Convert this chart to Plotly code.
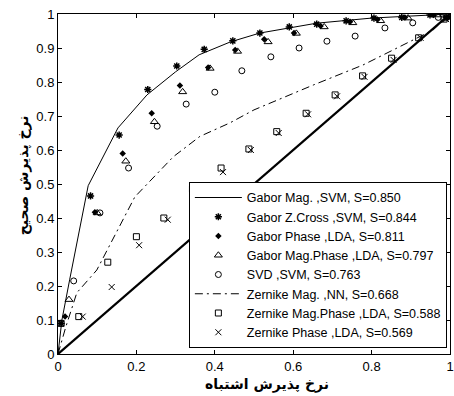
import plotly.graph_objects as go

# ---- data ----
gm_x = [0, 0.01, 0.03, 0.077, 0.153, 0.227, 0.30, 0.36, 0.44, 0.515, 0.66, 0.80, 1.0]
gm_y = [0, 0.10, 0.22, 0.495, 0.665, 0.762, 0.83, 0.88, 0.918, 0.944, 0.973, 0.988, 1.0]

gz_x = [0.008, 0.083, 0.156, 0.229, 0.303, 0.373, 0.446, 0.515, 0.59, 0.66, 0.735, 0.806, 0.877, 0.949, 0.99]
gz_y = [0.09, 0.465, 0.644, 0.778, 0.847, 0.896, 0.921, 0.944, 0.962, 0.97, 0.98, 0.988, 0.99, 0.997, 0.99]

gp_x = [0.018, 0.094, 0.165, 0.239, 0.311, 0.383, 0.452, 0.526, 0.602, 0.67, 0.745, 0.815, 0.885, 0.958, 0.995]
gp_y = [0.11, 0.417, 0.59, 0.708, 0.79, 0.843, 0.894, 0.926, 0.944, 0.965, 0.977, 0.984, 0.99, 0.997, 0.99]

gmp_x = [0.028, 0.10, 0.173, 0.246, 0.318, 0.388, 0.458, 0.536, 0.608, 0.679, 0.752, 0.823, 0.893, 0.967, 1.0]
gmp_y = [0.16, 0.415, 0.567, 0.683, 0.771, 0.84, 0.89, 0.918, 0.943, 0.962, 0.974, 0.98, 0.988, 0.997, 0.99]

svd_x = [0.04, 0.107, 0.18, 0.253, 0.327, 0.40, 0.469, 0.543, 0.615, 0.686, 0.758, 0.834, 0.905, 0.97]
svd_y = [0.215, 0.415, 0.547, 0.67, 0.735, 0.77, 0.833, 0.874, 0.90, 0.92, 0.935, 0.959, 0.974, 0.99]

zm_x = [0, 0.02, 0.048, 0.099, 0.196, 0.227, 0.294, 0.362, 0.439, 0.5, 0.651, 0.778, 0.957, 1.0]
zm_y = [0, 0.08, 0.18, 0.247, 0.462, 0.50, 0.58, 0.64, 0.68, 0.718, 0.791, 0.85, 0.953, 1.0]

zmp_x = [0.008, 0.053, 0.127, 0.2, 0.27, 0.343, 0.416, 0.487, 0.558, 0.633, 0.707, 0.777, 0.851, 0.92, 0.985]
zmp_y = [0.09, 0.11, 0.27, 0.345, 0.40, 0.485, 0.547, 0.603, 0.654, 0.708, 0.762, 0.818, 0.87, 0.93, 0.985]

zp_x = [0.063, 0.137, 0.207, 0.28, 0.35, 0.421, 0.492, 0.563, 0.638, 0.712, 0.782, 0.856, 0.925, 0.99]
zp_y = [0.11, 0.197, 0.32, 0.395, 0.47, 0.535, 0.60, 0.65, 0.705, 0.758, 0.815, 0.865, 0.93, 0.985]

diag_x = [0, 1]
diag_y = [0, 1]

names = [
    "Gabor Mag. ,SVM, S=0.850",
    "Gabor Z.Cross ,SVM, S=0.844",
    "Gabor Phase ,LDA, S=0.811",
    "Gabor Mag.Phase ,LDA, S=0.797",
    "SVD ,SVM, S=0.763",
    "Zernike Mag. ,NN, S=0.668",
    "Zernike Mag.Phase ,LDA, S=0.588",
    "Zernike Phase ,LDA, S=0.569",
]

x_ticks = [0, 0.2, 0.4, 0.6, 0.8, 1]
x_labels = ["0", "0.2", "0.4", "0.6", "0.8", "1"]
y_ticks = [0, 0.1, 0.2, 0.3, 0.4, 0.5, 0.6, 0.7, 0.8, 0.9, 1]
y_labels = ["0", "0.1", "0.2", "0.3", "0.4", "0.5", "0.6", "0.7", "0.8", "0.9", "1"]

x_title = "نرخ پذیرش اشتباه"
y_title = "نرخ پذیرش صحیح"

fig = go.Figure()
fig.add_trace(go.Scatter(x=diag_x, y=diag_y, mode="lines", line=dict(color="black", width=2.2),
                         showlegend=False, hoverinfo="skip"))
fig.add_trace(go.Scatter(x=gm_x, y=gm_y, mode="lines", name=names[0], line=dict(color="black", width=1)))
fig.add_trace(go.Scatter(x=gz_x, y=gz_y, mode="markers", name=names[1],
                         marker=dict(symbol="asterisk-open", size=6, color="black", line=dict(width=1.5, color="black"))))
fig.add_trace(go.Scatter(x=gp_x, y=gp_y, mode="markers", name=names[2],
                         marker=dict(symbol="diamond", size=5, color="black")))
fig.add_trace(go.Scatter(x=gmp_x, y=gmp_y, mode="markers", name=names[3],
                         marker=dict(symbol="triangle-up-open", size=7, color="black", line=dict(width=1, color="black"))))
fig.add_trace(go.Scatter(x=svd_x, y=svd_y, mode="markers", name=names[4],
                         marker=dict(symbol="circle-open", size=6, color="black", line=dict(width=1, color="black"))))
fig.add_trace(go.Scatter(x=zm_x, y=zm_y, mode="lines", name=names[5],
                         line=dict(color="black", width=1, dash="8px,4px,2px,4px")))
fig.add_trace(go.Scatter(x=zmp_x, y=zmp_y, mode="markers", name=names[6],
                         marker=dict(symbol="square-open", size=6, color="black", line=dict(width=1, color="black"))))
fig.add_trace(go.Scatter(x=zp_x, y=zp_y, mode="markers", name=names[7],
                         marker=dict(symbol="x-thin-open", size=6, color="black", line=dict(width=1, color="black"))))

axis_common = dict(range=[0, 1], showgrid=False, zeroline=False, showline=True, linecolor="black",
                   linewidth=1, mirror="ticks", ticks="inside", ticklen=4, tickcolor="black",
                   automargin=False,
                   tickfont=dict(family="Liberation Sans, Arial", size=13, color="black"))
fig.update_xaxes(**axis_common, tickvals=x_ticks, ticktext=x_labels)
fig.update_yaxes(**axis_common, tickvals=y_ticks, ticktext=y_labels)

title_font = dict(family="DejaVu Sans", size=14, color="black")
fig.add_annotation(text="<b>" + x_title + "</b>", xref="paper", yref="paper", x=0.533, y=-0.091,
                   xanchor="center", yanchor="middle", showarrow=False, font=title_font)
fig.add_annotation(text="<b>" + y_title + "</b>", xref="paper", yref="paper", x=-0.089, y=0.526,
                   xanchor="center", yanchor="middle", showarrow=False, font=title_font, textangle=-90)

fig.update_layout(
    width=454, height=396,
    margin=dict(l=58, r=4, t=14, b=42),
    plot_bgcolor="white", paper_bgcolor="white",
    legend=dict(x=0.992, y=0.018, xanchor="right", yanchor="bottom",
                bgcolor="white", bordercolor="black", borderwidth=1,
                font=dict(family="Liberation Sans, Arial", size=12.5, color="black"),
                tracegroupgap=0, itemwidth=47),
    showlegend=True,
)

fig.write_html("out.html", config={"displayModeBar": False},
               post_script="document.body.style.margin='0';document.body.style.padding='0';")
